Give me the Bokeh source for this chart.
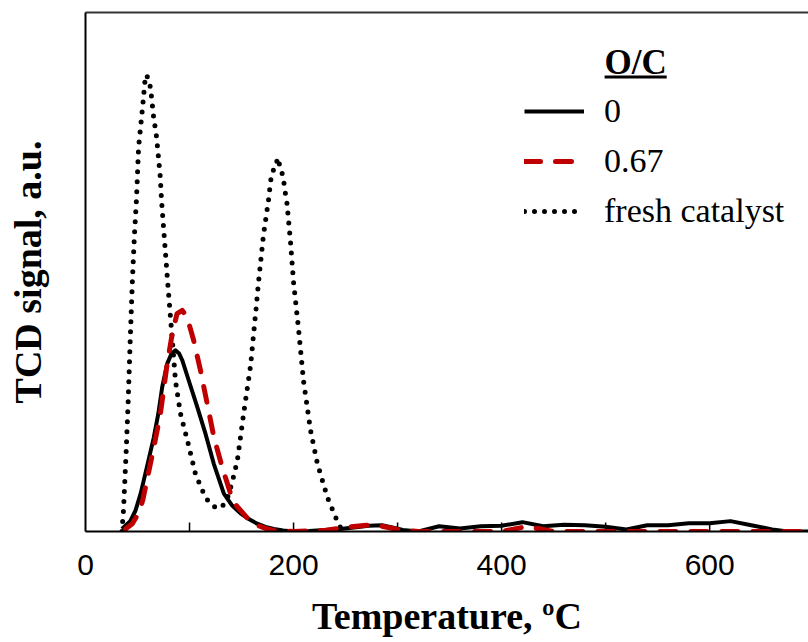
from bokeh.plotting import figure
from bokeh.models import (Range1d, FixedTicker, Legend, LegendItem, Label,
                          BoxAnnotation, LinearAxis)
from bokeh.embed import file_html
from bokeh.resources import INLINE

# ---------------- data ----------------
temp_oc0 = [35, 43, 48, 53, 59, 65.5, 70, 73.7, 78.5, 82.5, 86.5, 90, 93, 99.4,
            107.4, 115.4, 123.4, 133, 141, 149, 157, 165, 173, 181, 190, 200,
            215, 230, 245, 260, 272, 285, 295, 305, 320, 340, 360, 380, 400,
            420, 440, 460, 480, 500, 520, 540, 560, 580, 600, 620, 640, 660,
            675, 700]
sig_oc0 = [0.005, 0.02, 0.04, 0.073, 0.124, 0.18, 0.227, 0.278, 0.323, 0.342,
           0.349, 0.343, 0.33, 0.29, 0.24, 0.188, 0.13, 0.073, 0.05, 0.035,
           0.024, 0.015, 0.009, 0.005, 0.002, 0.0, 0.001, 0.003, 0.005, 0.008,
           0.011, 0.012, 0.008, 0.003, 0.0, 0.01, 0.006, 0.01, 0.011, 0.018,
           0.01, 0.013, 0.012, 0.009, 0.004, 0.012, 0.012, 0.016, 0.016, 0.02,
           0.012, 0.004, 0.0, 0.0]

temp_oc067 = [38.5, 45, 51, 55, 59, 65.7, 72, 78.5, 83.3, 88, 93, 97.7, 104,
              110.6, 117, 123.4, 131.4, 139.4, 145, 152, 158, 165, 173, 181,
              200, 230, 250, 270, 285, 300, 320, 400, 410, 420, 435, 450, 700]
sig_oc067 = [0.005, 0.015, 0.035, 0.06, 0.098, 0.162, 0.227, 0.323, 0.38,
             0.42, 0.426, 0.413, 0.368, 0.31, 0.246, 0.182, 0.124, 0.073,
             0.05, 0.034, 0.02, 0.012, 0.006, 0.002, 0.0, 0.002, 0.008, 0.012,
             0.01, 0.004, 0.0, 0.0, 0.004, 0.008, 0.006, 0.0, 0.0]

temp_fresh = [35, 36.5, 39, 41, 43, 45, 47, 49, 51, 55, 57.7, 60, 62.5, 65.4,
              68.3, 70.2, 72, 73, 76, 79, 83, 86.5, 91.3, 98, 105.8, 115.4,
              122, 127, 132, 136.5, 141, 146, 152, 158.7, 163.5, 166.3, 171,
              176, 178, 180, 182.7, 184.6, 187.5, 190.4, 191.3, 193.3, 197,
              200, 204.8, 209.6, 216.3, 223, 232.7, 242, 247]
sig_fresh = [0.0, 0.04, 0.15, 0.25, 0.37, 0.48, 0.57, 0.64, 0.74, 0.82, 0.88,
             0.875, 0.855, 0.80, 0.76, 0.72, 0.68, 0.64, 0.56, 0.48, 0.38,
             0.29, 0.227, 0.175, 0.11, 0.065, 0.05, 0.044, 0.05, 0.065, 0.095,
             0.137, 0.227, 0.32, 0.42, 0.48, 0.57, 0.64, 0.676, 0.695, 0.70,
             0.72, 0.70, 0.68, 0.66, 0.64, 0.56, 0.48, 0.39, 0.29, 0.195, 0.13,
             0.065, 0.02, 0.0]

x_major_ticks = [0, 200, 400, 600]
x_minor_ticks = [100, 300, 500, 700]
series_labels = ["0", "0.67", "fresh catalyst"]
legend_header = "O/C"

SERIF = "Liberation Serif"
SANS = "Liberation Sans"

Y_END = 1.0
FRAME_H = 519.0  # frame height in px (used to size the inward ticks)

p = figure(width=808, height=642, output_backend="svg", toolbar_location=None,
           x_range=Range1d(0, 695), y_range=Range1d(0, Y_END),
           min_border_left=85, min_border_right=0, min_border_top=12,
           min_border_bottom=111)
p.grid.visible = False
p.outline_line_color = None
p.background_fill_color = "white"
p.border_fill_color = "white"

# x axis
xa = p.xaxis[0]
xa.ticker = FixedTicker(ticks=x_major_ticks, minor_ticks=x_minor_ticks)
xa.axis_line_width = 2
xa.axis_line_color = "black"
xa.major_tick_in = 0
xa.major_tick_out = 0
xa.minor_tick_in = 0
xa.minor_tick_out = 0
xa.major_label_text_font = SANS
xa.major_label_text_font_size = "30px"
xa.major_label_text_color = "black"
xa.major_label_standoff = 23
xa.axis_label = "Temperature, ºC"
xa.axis_label_text_font = SERIF
xa.axis_label_text_font_style = "bold"
xa.axis_label_text_font_size = "38px"
xa.axis_label_text_color = "black"
xa.axis_label_standoff = 17

# y axis
ya = p.yaxis[0]
ya.ticker = FixedTicker(ticks=[])
ya.axis_line_width = 2
ya.axis_line_color = "black"
ya.major_tick_in = 0
ya.major_tick_out = 0
ya.minor_tick_in = 0
ya.minor_tick_out = 0
ya.major_label_standoff = 0
ya.axis_label = "TCD signal, a.u."
ya.axis_label_text_font = SERIF
ya.axis_label_text_font_style = "bold"
ya.axis_label_text_font_size = "38px"
ya.axis_label_text_color = "black"
ya.axis_label_standoff = 37

# top border
top = LinearAxis(ticker=FixedTicker(ticks=[]), axis_line_width=2,
                 axis_line_color="#333333", major_tick_in=0, major_tick_out=0,
                 minor_tick_in=0, minor_tick_out=0, major_label_standoff=0)
p.add_layout(top, "above")

# inward tick marks (axis ticks drawn inside the frame), from the tick lists
tick_pos = [t for t in sorted(x_major_ticks + x_minor_ticks) if t > 0]
tick_len = 9.0 / FRAME_H * Y_END
p.segment(x0=tick_pos, y0=[0] * len(tick_pos), x1=tick_pos,
          y1=[tick_len] * len(tick_pos), line_color="black", line_width=1.5)

r_fresh = p.line(temp_fresh, sig_fresh, line_color="black", line_width=5,
                 line_dash="0 10", line_cap="round")
r0 = p.line(temp_oc0, sig_oc0, line_color="black", line_width=4,
            line_join="round")
r1 = p.line(temp_oc067, sig_oc067, line_color="#C00000", line_width=5,
            line_dash="16 15", line_cap="round", line_join="round")

legend = Legend(items=[LegendItem(label=series_labels[0], renderers=[r0]),
                       LegendItem(label=series_labels[1], renderers=[r1]),
                       LegendItem(label=series_labels[2], renderers=[r_fresh])],
                location=(439, 300), orientation="vertical",
                border_line_color=None, background_fill_alpha=0,
                label_text_font=SERIF, label_text_font_size="34px",
                label_text_color="black",
                glyph_width=60, glyph_height=40, label_height=40, spacing=10,
                padding=0, margin=0, label_standoff=20)
p.add_layout(legend)

p.add_layout(Label(x=499, y=0.9037, text=legend_header, text_font=SERIF,
                   text_font_style="bold", text_font_size="35px",
                   text_color="black", text_baseline="alphabetic"))
p.add_layout(BoxAnnotation(left=499, right=558.7, bottom=0.8728, top=0.8786,
                           fill_color="black", fill_alpha=1, line_color=None))

open("out.html", "w").write(file_html(p, INLINE))
